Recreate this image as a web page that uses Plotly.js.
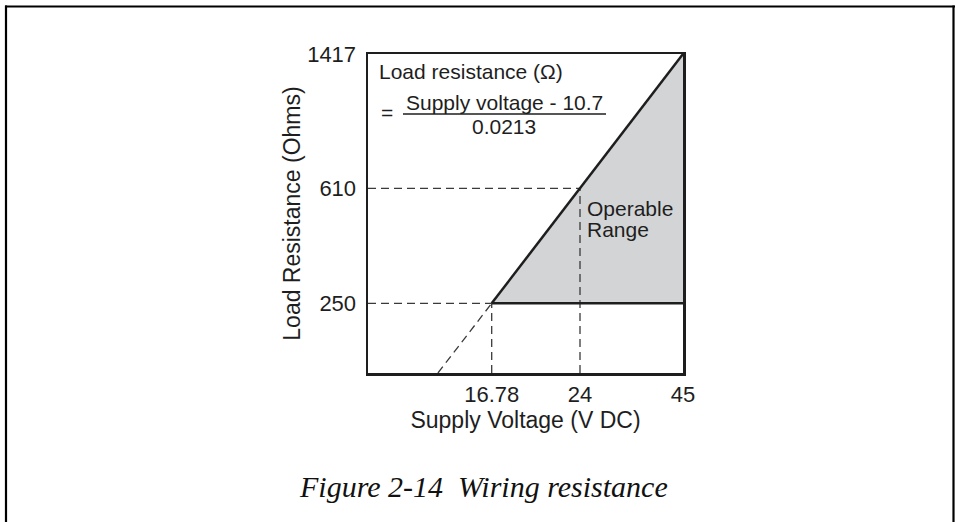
<!DOCTYPE html>
<html>
<head>
<meta charset="utf-8">
<script src="https://cdn.plot.ly/plotly-3.0.1.min.js"></script>
<style>html,body{margin:0;padding:0;background:#fff;} #chart{width:955px;height:522px;}</style>
</head>
<body>
<div id="chart"></div>
<script>
// ---- data ----
const supplyVoltageTicks = [16.78, 24, 45];      // V DC
const loadResistanceTicks = [250, 610, 1417];    // Ohms
const xTickLabels = ['16.78', '24', '45'];
const yTickLabels = ['250', '610', '1417'];
const formulaOffset = 10.7;                      // supply voltage where R = 0
const formulaSlope = 0.0213;
const minVoltage = 16.78, maxVoltage = 45;
const minLoad = 250, maxLoad = 1417;
const refVoltage = 24, refLoad = 610;

// ---- schematic (not-to-scale) axis layout ----
const M = {l: 368, r: 272, t: 54, b: 149};
const W = 955 - M.l - M.r, H = 522 - M.t - M.b;
const xAnchorVals = [formulaOffset, ...supplyVoltageTicks];
const xAnchorPos = [0.222, 0.3927, 0.673, 1.0];
const yAnchorVals = [0, ...loadResistanceTicks];
const yAnchorPos = [0, 0.2185, 0.579, 1.0];
function interp(v, vals, pos) {
  for (let i = 0; i < vals.length - 1; i++) {
    if (v <= vals[i + 1] || i === vals.length - 2) {
      const f = (v - vals[i]) / (vals[i + 1] - vals[i]);
      return pos[i] + f * (pos[i + 1] - pos[i]);
    }
  }
}
const sx = v => interp(v, xAnchorVals, xAnchorPos);
const sy = v => interp(v, yAnchorVals, yAnchorPos);
const pxX = x => (x - M.l) / W;
const pxY = y => 1 - (y - M.t) / H;

const ink = '#1e1e1e';
const dashInk = '#3a3a3a';
const dash = '8px,5px';
const font = '"Liberation Sans", Arial, Helvetica, sans-serif';

function seg(xs, ys, style) {
  return {type: 'scatter', mode: 'lines', x: xs, y: ys, line: style,
          hoverinfo: 'skip', showlegend: false, cliponaxis: false};
}

const traces = [
  // operable range fill
  {type: 'scatter', mode: 'none', fill: 'toself', fillcolor: '#d3d4d6',
   x: [sx(minVoltage), sx(maxVoltage), sx(maxVoltage), sx(minVoltage)],
   y: [sy(minLoad), sy(maxLoad), sy(minLoad), sy(minLoad)],
   hoverinfo: 'skip', showlegend: false},
  // dashed guides
  seg([sx(formulaOffset), sx(minVoltage)], [sy(0), sy(minLoad)], {color: dashInk, width: 1.3, dash: dash}),
  seg([0, sx(minVoltage)], [sy(minLoad), sy(minLoad)], {color: dashInk, width: 1.3, dash: dash}),
  seg([0, sx(refVoltage)], [sy(refLoad), sy(refLoad)], {color: dashInk, width: 1.3, dash: dash}),
  seg([sx(minVoltage), sx(minVoltage)], [0, sy(minLoad)], {color: dashInk, width: 1.3, dash: dash}),
  seg([sx(refVoltage), sx(refVoltage)], [0, sy(refLoad)], {color: dashInk, width: 1.3, dash: dash}),
  // solid boundaries
  seg([sx(minVoltage), sx(maxVoltage)], [sy(minLoad), sy(maxLoad)], {color: ink, width: 2.5}),
  seg([sx(minVoltage), sx(maxVoltage)], [sy(minLoad), sy(minLoad)], {color: ink, width: 2.5})
];

const txt = (text, x, y, xanchor, size, extra) => Object.assign({
  text: text, xref: 'paper', yref: 'paper', x: pxX(x), y: pxY(y),
  xanchor: xanchor, yanchor: 'middle', showarrow: false,
  font: {family: font, size: size, color: ink}
}, extra || {});

const layout = {
  width: 955, height: 522,
  margin: M,
  paper_bgcolor: '#fff', plot_bgcolor: '#fff',
  showlegend: false,
  xaxis: {
    range: [0, 1], fixedrange: true,
    tickvals: supplyVoltageTicks.map(sx), ticktext: xTickLabels,
    ticks: '', ticklen: 0,
    showgrid: false, zeroline: false,
    showline: true, mirror: true, linecolor: ink, linewidth: 2.5,
    tickfont: {family: font, size: 22, color: ink},
    title: {text: 'Supply Voltage (V DC)', standoff: 2, font: {family: font, size: 23, color: ink}}
  },
  yaxis: {
    range: [0, 1], fixedrange: true,
    tickvals: loadResistanceTicks.map(sy), ticktext: yTickLabels,
    ticks: 'outside', ticklen: 5, tickcolor: 'rgba(0,0,0,0)',
    showgrid: false, zeroline: false,
    showline: true, mirror: true, linecolor: ink, linewidth: 2.5,
    tickfont: {family: font, size: 22, color: ink},
    title: {text: 'Load Resistance (Ohms)', standoff: 0, font: {family: font, size: 23, color: ink}}
  },
  annotations: [
    txt('Load resistance (Ω)', 377, 72, 'left', 21),
    txt('=', 387, 112, 'center', 21),
    txt('Supply voltage - ' + formulaOffset, 504.5, 102, 'center', 21),
    txt(String(formulaSlope), 503.5, 127, 'center', 21),
    txt('Operable', 585, 208, 'left', 21),
    txt('Range', 585, 229, 'left', 21),
    txt('Figure 2-14\u00a0\u00a0Wiring resistance', 483, 486, 'center', 30,
        {font: {family: '"Liberation Serif", "Times New Roman", Times, serif', size: 30, color: '#111', style: 'italic'}})
  ],
  shapes: [
    // fraction bar
    {type: 'line', xref: 'paper', yref: 'paper', x0: pxX(403), x1: pxX(606), y0: pxY(114), y1: pxY(114),
     line: {color: ink, width: 1.5}},
    // outer frame
    {type: 'line', xref: 'paper', yref: 'paper', x0: pxX(5), x1: pxX(955), y0: pxY(6.5), y1: pxY(6.5),
     line: {color: '#000', width: 2.2}},
    {type: 'line', xref: 'paper', yref: 'paper', x0: pxX(6), x1: pxX(6), y0: pxY(5.5), y1: pxY(522),
     line: {color: '#000', width: 2.2}},
    {type: 'line', xref: 'paper', yref: 'paper', x0: pxX(953.5), x1: pxX(953.5), y0: pxY(5.5), y1: pxY(522),
     line: {color: '#000', width: 2.2}}
  ]
};

Plotly.newPlot('chart', traces, layout, {displayModeBar: false, staticPlot: true});
</script>
</body>
</html>
